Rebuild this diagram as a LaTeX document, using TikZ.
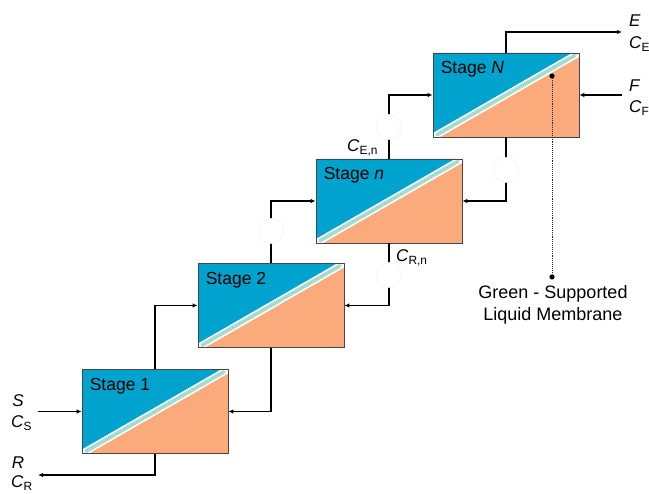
\documentclass[tikz,border=0pt]{standalone}
\usepackage{fontspec}
\setmainfont{Liberation Sans}
\usetikzlibrary{arrows.meta}

\definecolor{phaseblue}{RGB}{0,163,206}
\definecolor{phaseorange}{RGB}{251,170,123}
\definecolor{membrane}{RGB}{170,221,211}
\definecolor{membranedot}{RGB}{120,190,178}
\definecolor{boxline}{RGB}{70,70,70}

\tikzset{
  stagebox/.style={draw=boxline, line width=0.8pt, fill=phaseorange,
    minimum width=146pt, minimum height=84pt, inner sep=0pt,
    path picture={
      \fill[phaseblue] (path picture bounding box.north west)
        -- (path picture bounding box.north east)
        -- (path picture bounding box.south west) -- cycle;
      \draw[white, line width=7pt]
        (path picture bounding box.south west)
        -- (path picture bounding box.north east);
      \draw[membrane, line width=3.8pt, line cap=round]
        ([shift={(4pt,2.3pt)}]path picture bounding box.south west)
        -- ([shift={(-4pt,-2.3pt)}]path picture bounding box.north east);
      \draw[membranedot, line width=0.6pt, dash pattern=on 0.6pt off 2pt]
        ([shift={(5pt,3pt)}]path picture bounding box.south west)
        -- ([shift={(-5pt,-3pt)}]path picture bounding box.north east);
    }},
  stagename/.style={anchor=west, inner sep=0pt, font=\fontsize{17.5}{21}\selectfont},
  lbl/.style={inner sep=0pt, font=\fontsize{17}{20}\selectfont},
  flow/.style={line width=1.2pt, -{Latex[length=5pt,width=4.5pt]}},
  gap/.style={circle, fill=white, draw=black!6, line width=0.5pt,
    minimum size=25pt, inner sep=0pt},
}

\begin{document}
\begin{tikzpicture}[x=1pt,y=-1pt]
  \useasboundingbox (0,0) rectangle (649,494);

  % the four stages
  \node[stagebox] (s1) at (155,411.5) {};
  \node[stagebox] (s2) at (271,305.5) {};
  \node[stagebox] (sn) at (389,201) {};
  \node[stagebox] (sN) at (506,95) {};

  \node[stagename] (t1) at ([shift={(8pt,-17pt)}]s1.north west) {Stage 1};
  \node[stagename] (t2) at ([shift={(8pt,-17pt)}]s2.north west) {Stage 2};
  \node[stagename] (tn) at ([shift={(8pt,-17pt)}]sn.north west) {Stage \textit{n}};
  \node[stagename] (tN) at ([shift={(8pt,-17pt)}]sN.north west) {Stage \textit{N}};

  % free ends of the outer streams
  \coordinate (sin) at (38,411.5);
  \coordinate (rout) at (38,475);
  \coordinate (eout) at (622,32);
  \coordinate (fin) at (622,95);

  % streams between stages
  \draw[flow] (sin) -- (s1.west);
  \draw[flow] (s1.south) |- (rout);
  \draw[flow] (s1.north) |- (s2.west);
  \draw[flow] (s2.south) |- (s1.east);
  \draw[flow] (s2.north) |- (sn.west);
  \draw[flow] (sn.south) |- (s2.east);
  \draw[flow] (sn.north) |- (sN.west);
  \draw[flow] (sN.south) |- (sn.east);
  \draw[flow] (sN.north) |- (eout);
  \draw[flow] (fin) -- (sN.east);

  % breaks in the intermediate lines
  \node[gap] (g1) at (271,231) {};
  \node[gap] (g2) at (389,275) {};
  \node[gap] (g3) at (389,127) {};
  \node[gap] (g4) at (506,170) {};

  % stream labels
  \node[lbl] (lS) at (18,401) {\textit{S}};
  \node[lbl, anchor=west] (lCS) at (11,423) {\textit{C}\textsubscript{S}};
  \node[lbl] (lR) at (18,463) {\textit{R}};
  \node[lbl, anchor=west] (lCR) at (11,483) {\textit{C}\textsubscript{R}};
  \node[lbl, anchor=west] (lE) at (629,21) {\textit{E}};
  \node[lbl, anchor=west] (lCE) at (629,44) {\textit{C}\textsubscript{E}};
  \node[lbl, anchor=west] (lF) at (629,86) {\textit{F}};
  \node[lbl, anchor=west] (lCF) at (629,108) {\textit{C}\textsubscript{F}};
  \node[lbl, anchor=west] (lCEn) at (347,148) {\textit{C}\textsubscript{E,n}};
  \node[lbl, anchor=west] (lCRn) at (396,258) {\textit{C}\textsubscript{R,n}};

  % membrane callout
  \fill (552,76) circle (2.6pt) coordinate (mdot);
  \fill (552,277) circle (2.6pt) coordinate (ldot);
  \draw[line width=0.9pt, densely dotted, black!85] (mdot) -- (ldot);
  \node[anchor=north, align=center, inner sep=0pt,
        font=\fontsize{18}{22}\selectfont] (mlabel) at (553,285)
        {Green - Supported\\Liquid Membrane};
\end{tikzpicture}
\end{document}
